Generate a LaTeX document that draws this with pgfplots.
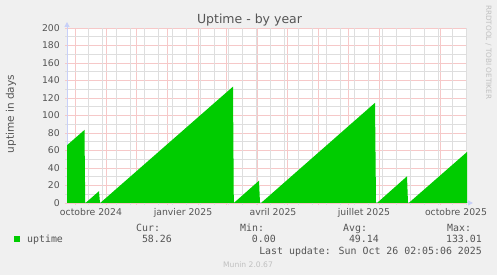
\documentclass[border=0pt]{standalone}
\usepackage{pgfplots}
\pgfplotsset{compat=1.18}
\usepackage{fontspec}
\setmainfont{DejaVu Sans}
\newfontfamily\mono{DejaVu Sans Mono}
\usetikzlibrary{arrows.meta}
\definecolor{bg}{HTML}{F0F0F0}
\definecolor{txt}{HTML}{555555}
\definecolor{axiscol}{HTML}{C8D0F8}
\definecolor{mgrid}{HTML}{F6C8C8}
\definecolor{mingrid}{HTML}{DEDEDE}
\definecolor{upgreen}{HTML}{00CC00}
\definecolor{faint}{HTML}{C0C0C0}
\begin{document}
\begin{tikzpicture}[x=1pt,y=1pt]
\fill[bg] (0,0) rectangle (497,275);
\useasboundingbox (0,0) rectangle (497,275);
\begin{axis}[
  at={(67pt,72pt)}, anchor=origin,
  scale only axis, width=400pt, height=175pt,
  xmin=0, xmax=400, ymin=0, ymax=200,
  axis background/.style={fill=white},
  axis x line*=bottom, axis y line*=left,
  x axis line style={draw=axiscol, line width=1pt, -{Triangle[length=5pt,width=5pt]}, shorten >=-6pt},
  y axis line style={draw=axiscol, line width=1pt, -{Triangle[length=5pt,width=5pt]}, shorten >=-6pt},
  /pgf/number format/assume math mode=true,
  tick label style={font=\fontsize{9.3}{11}\selectfont, text=txt},
  xtick={8.5,39.5,69.5,100.5,131.5,159.5,190.5,220.5,251.5,281.5,312.5,343.5,373.5},
  xticklabels={octobre 2024,,,janvier 2025,,,avril 2025,,,juillet 2025,,,octobre 2025},
  xticklabel style={anchor=north, inner sep=0pt, yshift=-3pt, xshift=15.5pt},
  extra x ticks={21.5,35.5,49.5,63.5,77.5,91.5,105.5,119.5,133.5,147.5,161.5,175.5,189.5,203.5,217.5,231.5,245.5,259.5,273.5,287.5,301.5,315.5,329.5,343.5,357.5,371.5,385.5,399.5},
  extra x tick labels={},
  extra x tick style={major grid style={draw=mingrid, line width=0.9pt}, major tick style={draw=mingrid, line width=0.9pt}},
  ytick={0,20,...,200},
  minor ytick={10,30,...,190},
  yticklabel style={anchor=east, inner sep=0pt, xshift=-5pt},
  tick align=outside,
  major tick length=2pt, minor tick length=2pt,
  major tick style={draw=mgrid, line width=0.9pt},
  minor tick style={draw=mingrid, line width=0.9pt},
  grid=both,
  major grid style={draw=mgrid, line width=0.9pt},
  minor grid style={draw=mingrid, line width=0.9pt},
]
\addplot[fill=upgreen, draw=none] coordinates {
 (0,66) (17.5,83.5) (18.2,0)
 (19,0.5) (32,13.5) (33,0)
 (33.2,0) (166,133) (166.8,0)
 (167,0.2) (192,25.5) (193,0)
 (194,0) (308,114.5) (309,0)
 (310,0) (340,30.5) (341,0)
 (341.7,0) (400,58.26)
} \closedcycle;
\end{axis}
\node[text=txt, font=\fontsize{12.5}{14}\selectfont, anchor=base, inner sep=0] at (249.5,251.6) {Uptime - by year};
\node[text=txt, font=\fontsize{10.5}{12}\selectfont, rotate=90, inner sep=0] at (11,161) {uptime in days};
\node[text=faint, font=\fontsize{7.3}{9}\selectfont, rotate=-90, anchor=west, inner sep=0] at (488.5,270) {RRDTOOL / TOBI OETIKER};
\fill[upgreen] (14,32.5) rectangle (20,38.5);
\begin{scope}[every node/.style={inner sep=0, text=txt, font=\mono\fontsize{9.9}{12}\selectfont}]
\node[anchor=base west] at (27,32.5) {uptime};
\node[anchor=base west] at (136,43.5) {Cur:};
\node[anchor=base west] at (240,43.5) {Min:};
\node[anchor=base west] at (343,43.5) {Avg:};
\node[anchor=base west] at (447,43.5) {Max:};
\node[anchor=base east] at (172,32.5) {58.26};
\node[anchor=base east] at (276,32.5) {0.00};
\node[anchor=base east] at (379,32.5) {49.14};
\node[anchor=base east] at (482,32.5) {133.01};
\node[anchor=base east] at (482,20.5) {Last update: Sun Oct 26 02:05:06 2025};
\end{scope}
\node[text=faint, font=\fontsize{7.6}{9}\selectfont, anchor=base, inner sep=0] at (248,7.5) {Munin 2.0.67};
\end{tikzpicture}
\end{document}
